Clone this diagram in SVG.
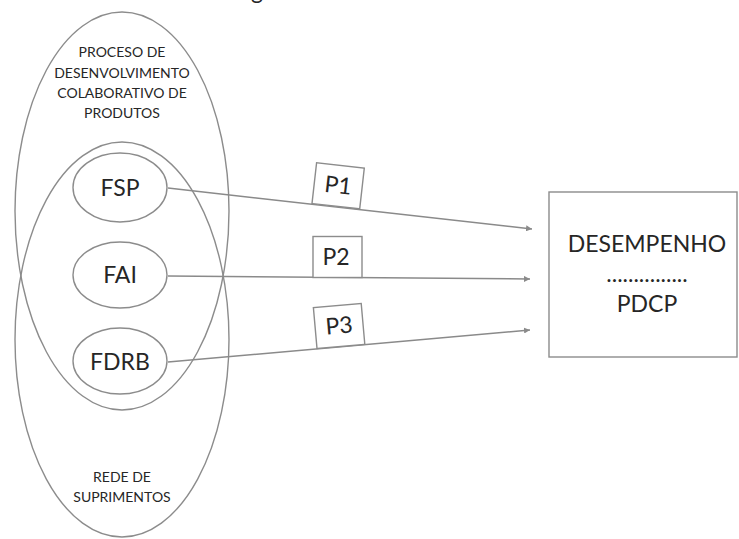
<svg xmlns="http://www.w3.org/2000/svg" width="739" height="539" viewBox="0 0 739 539">
<style>
  .shape { fill: none; stroke: #8c8c8c; stroke-width: 1.4; }
  .box { fill: #ffffff; stroke: #8c8c8c; stroke-width: 1.4; }
  .conn { fill: none; stroke: #8a8a8a; stroke-width: 1.5; marker-end: url(#arrow); }
  .big { font-family: Lato, "Liberation Sans", sans-serif; font-size: 23px; fill: #262626; text-anchor: middle; }
  .small { font-family: Lato, "Liberation Sans", sans-serif; font-size: 14px; fill: #262626; text-anchor: middle; }
</style>
<defs>
  <marker id="arrow" viewBox="0 0 10 10" refX="10" refY="5" markerWidth="6" markerHeight="6" markerUnits="userSpaceOnUse" orient="auto">
    <path d="M0,0 L10,5 L0,10 z" fill="#8a8a8a"/>
  </marker>
</defs>
<rect width="739" height="539" fill="#ffffff"/>
<text class="big" x="257" y="-1" font-size="24">g</text>

<g id="proceso">
  <ellipse class="shape" cx="122" cy="211" rx="107" ry="199"/>
  <text class="small" x="122" y="57">PROCESO DE</text>
  <text class="small" x="122" y="78">DESENVOLVIMENTO</text>
  <text class="small" x="122" y="98">COLABORATIVO DE</text>
  <text class="small" x="122" y="118">PRODUTOS</text>
</g>
<g id="rede">
  <ellipse class="shape" cx="122" cy="339.5" rx="107" ry="197.5"/>
  <text class="small" x="122" y="482">REDE DE</text>
  <text class="small" x="122" y="502">SUPRIMENTOS</text>
</g>
<g id="fsp">
  <ellipse class="shape" cx="120" cy="187.5" rx="47" ry="34.5"/>
  <text class="big" x="120" y="196">FSP</text>
</g>
<g id="fai">
  <ellipse class="shape" cx="120" cy="275" rx="47" ry="33"/>
  <text class="big" x="120" y="283">FAI</text>
</g>
<g id="fdrb">
  <ellipse class="shape" cx="120" cy="361" rx="47" ry="33"/>
  <text class="big" x="120" y="370">FDRB</text>
</g>
<g id="desempenho">
  <rect class="box" x="549" y="192" width="188" height="165"/>
  <text class="big" x="647" y="252">DESEMPENHO</text>
  <text class="big" x="647" y="282">...............</text>
  <text class="big" x="647" y="312">PDCP</text>
</g>

<g id="connectors">
  <line class="conn" x1="168" y1="188" x2="532" y2="229"/>
  <line class="conn" x1="168" y1="276" x2="530" y2="279"/>
  <line class="conn" x1="168" y1="362" x2="530" y2="330"/>
  <g id="label-p1" transform="translate(312,203.5) rotate(6.43)">
    <rect class="box" x="0" y="-41" width="48" height="41"/>
    <text class="big" x="24" y="-13">P1</text>
  </g>
  <g id="label-p2" transform="translate(313,277.5)">
    <rect class="box" x="0" y="-41" width="49" height="41"/>
    <text class="big" x="23" y="-13">P2</text>
  </g>
  <g id="label-p3" transform="translate(317,348.5) rotate(-5.05)">
    <rect class="box" x="0" y="-41" width="48" height="41"/>
    <text class="big" x="24" y="-13">P3</text>
  </g>
</g>
</svg>
